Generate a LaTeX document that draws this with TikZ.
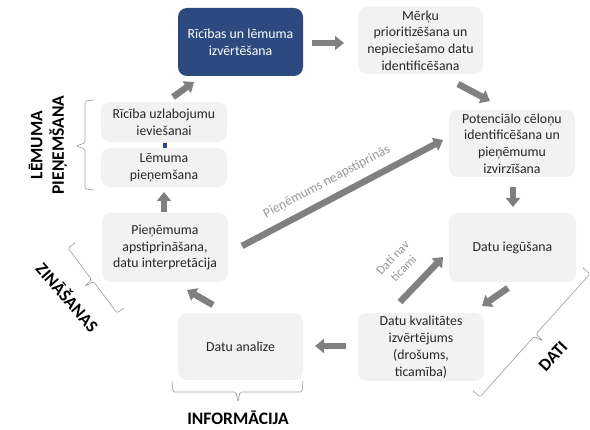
\documentclass[tikz,border=0pt]{standalone}
\usepackage{fontspec}
\setmainfont{Carlito}
\usetikzlibrary{arrows.meta}
\definecolor{boxgray}{RGB}{242,242,242}
\definecolor{navy}{RGB}{44,74,128}
\definecolor{arrgray}{RGB}{128,128,128}
\definecolor{lblgray}{RGB}{150,150,150}
\definecolor{brgray}{RGB}{165,165,165}
\definecolor{txt}{RGB}{38,38,38}
\begin{document}
\begin{tikzpicture}[x=1pt,y=-1pt,
  stepbox/.style={fill=boxgray, rounded corners=9pt, align=center, text=txt,
    font=\fontsize{13.8}{16.8}\selectfont, inner sep=0pt},
  bigarr/.style={draw=arrgray, line width=6.5pt, -{Triangle[length=9pt,width=14pt]}},
  brace/.style={draw=brgray, line width=0.7pt, rounded corners=1.5pt},
  biglbl/.style={font=\fontsize{17.5}{21.5}\selectfont\bfseries, text=black, align=center, inner sep=0pt},
  arrlbl/.style={text=lblgray, align=center, inner sep=0pt}
]
\useasboundingbox (0,0) rectangle (590,430);

% boxes
\node[stepbox, fill=navy, text=white, minimum width=125pt, minimum height=68pt] (blue) at (240.5,42) {Rīcības un lēmuma\\izvērtēšana};
\node[stepbox, minimum width=125pt, minimum height=67pt] (merku) at (420.5,40.5) {Mērķu\\prioritizēšana un\\nepieciešamo datu\\identificēšana};
\node[stepbox, minimum width=126pt, minimum height=67pt] (potenc) at (512,143.5) {Potenciālo cēloņu\\identificēšana un\\pieņēmumu\\izvirzīšana};
\node[stepbox, minimum width=127pt, minimum height=69pt] (iegus) at (512.5,247.5) {Datu iegūšana};
\node[stepbox, minimum width=126pt, minimum height=68pt] (kval) at (421,347) {Datu kvalitātes\\izvērtējums\\(drošums,\\ticamība)};
\node[stepbox, minimum width=125pt, minimum height=67pt] (anal) at (240.5,346.5) {Datu analīze};
\node[stepbox, minimum width=126pt, minimum height=69pt] (apst) at (165,247.5) {Pieņēmuma\\apstiprināšana,\\datu interpretācija};
\node[stepbox, minimum width=126pt, minimum height=40pt] (ricib) at (164,122) {Rīcība uzlabojumu\\ieviešanai};
\node[stepbox, minimum width=126pt, minimum height=39pt] (lemum) at (164,167.5) {Lēmuma\\pieņemšana};
\node[fill=navy, minimum width=4pt, minimum height=5pt, inner sep=0pt] (sq) at (164.5,145.5) {};

% arrow end points
\coordinate (a1s) at (312,43);  \coordinate (a1e) at (344,43);
\coordinate (a2s) at (458,84);  \coordinate (a2e) at (490,101);
\coordinate (a3s) at (513,187); \coordinate (a3e) at (513,207);
\coordinate (a4s) at (508,288); \coordinate (a4e) at (482,306);
\coordinate (a5s) at (346,346); \coordinate (a5e) at (315,346);
\coordinate (a6s) at (400,302); \coordinate (a6e) at (443,257);
\coordinate (a7s) at (213,305); \coordinate (a7e) at (187,290);
\coordinate (a8s) at (164,212); \coordinate (a8e) at (164,192);
\coordinate (a9s) at (242,246); \coordinate (a9e) at (443,140);
\coordinate (a10s) at (173,97); \coordinate (a10e) at (194,82);

\draw[bigarr] (a1s) -- (a1e);
\draw[bigarr] (a2s) -- (a2e);
\draw[bigarr] (a3s) -- (a3e);
\draw[bigarr] (a4s) -- (a4e);
\draw[bigarr] (a5s) -- (a5e);
\draw[bigarr] (a6s) -- (a6e);
\draw[bigarr] (a7s) -- (a7e);
\draw[bigarr] (a8s) -- (a8e);
\draw[bigarr] (a9s) -- (a9e);
\draw[bigarr] (a10s) -- (a10e);

% arrow labels
\node[arrlbl, rotate=28, font=\fontsize{13.5}{16}\selectfont] (lblneap) at (327,182) {Pieņēmums neapstiprinās};
\node[arrlbl, rotate=46, font=\fontsize{12.5}{15}\selectfont] (lbldati) at (398,263) {Dati nav\\ticami};

% braces
\draw[brace] (94,100) -- (85,101) -- (85,143) -- (76,146) -- (85,149) -- (85,189) -- (94,190);
\draw[brace] (172,381) -- (173,392) -- (236,392) -- (238,402) -- (240,392) -- (302,392) -- (303,381);
\draw[brace] (75,243) -- (68,248) -- (91.5,279.5) -- (84.5,286.5) -- (93.5,281.5) -- (117,313) -- (124,308);
\draw[brace] (583,268) -- (590,274) -- (536,334) -- (543,341) -- (534,336.5) -- (480,397) -- (473,391);

% group labels
\node[biglbl, rotate=90] (lblem) at (48,145) {LĒMUMA\\PIEŅEMŠANA};
\node[biglbl, rotate=-49] (lblzin) at (68,297) {ZINĀŠANAS};
\node[biglbl] (lblinf) at (238,418) {INFORMĀCIJA};
\node[biglbl, rotate=47] (lbldat) at (553,356) {DATI};
\end{tikzpicture}
\end{document}
